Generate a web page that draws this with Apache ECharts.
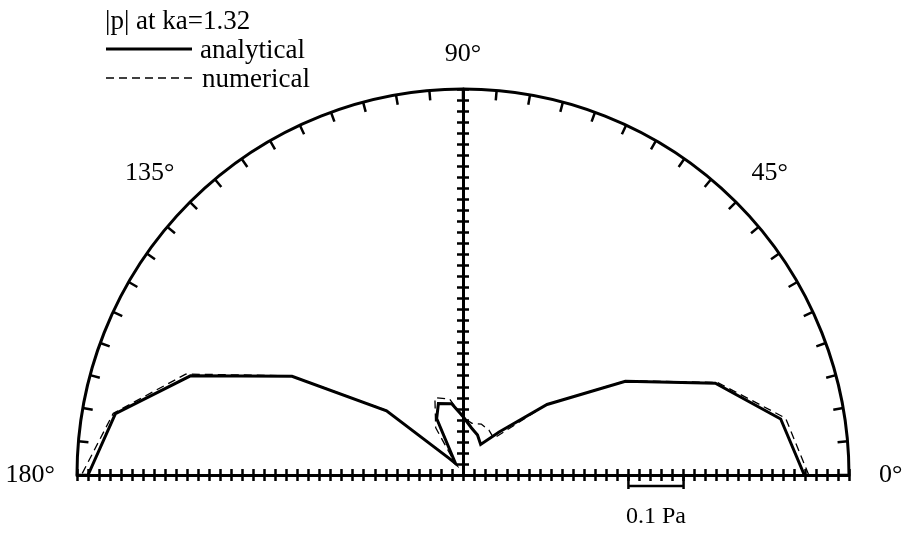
<!DOCTYPE html>
<html>
<head>
<meta charset="utf-8">
<script src="https://cdn.jsdelivr.net/npm/echarts@6/dist/echarts.min.js"></script>
<style>
  html, body { margin: 0; padding: 0; background: #fff; }
  #chart { width: 902px; height: 535px; }
</style>
</head>
<body>
<div id="chart"></div>
<script>
// Directivity of |p| (Pa) over the upper half plane, angle in degrees
const analyticalAngle = [0, 10, 20, 30, 40, 50, 60, 70, 80, 90, 99, 109, 115, 123, 130, 140, 150, 160, 170, 180];
const analyticalP     = [0.619, 0.585, 0.487, 0.340, 0.199, 0.102, 0.064, 0.077, 0.087, 0.106, 0.131, 0.137, 0.113, 0.025, 0.040, 0.181, 0.358, 0.526, 0.640, 0.680];

const numericalAngle = [0, 10, 20, 30, 40, 50, 60, 70, 80, 90, 100, 110, 120, 125, 130, 140, 150, 160, 170, 180];
const numericalP     = [0.627, 0.594, 0.491, 0.342, 0.200, 0.087, 0.094, 0.098, 0.095, 0.104, 0.140, 0.149, 0.099, 0.022, 0.042, 0.183, 0.360, 0.535, 0.644, 0.692];

const angleLabelValues = [0, 45, 90, 135, 180];
const seriesNames = ['analytical', 'numerical'];
const titleText = '|p| at ka=1.32';
const scaleBar = [0.3, 0.4];          // Pa, drawn under the 0° axis
const scaleBarText = '0.1 Pa';

const FONT = 'Liberation Serif';
const INK = '#000';
const CX = 463, CY = 475;
const RADIUS = 386;
const R_MAX = 0.7;
const R_STEP = 0.02;
const TICK = 12;                       // full length of the crossed radial ticks

const chart = echarts.init(document.getElementById('chart'), null, { renderer: 'canvas' });

function zip(angles, values) {
  return angles.map((a, i) => [values[i], a]);
}

// Polar 0 carries the arc, the 0° axis line and the curves.
// Polars 1-2 draw the 90° and 180° axis lines; polars 3-5 are shifted by
// half a tick so that their one-sided ticks straddle those lines.
const layout = [
  { center: [CX, CY], dir: 0, line: true, ticks: false },
  { center: [CX, CY], dir: 90, line: true, ticks: false },
  { center: [CX, CY], dir: 180, line: true, ticks: false },
  { center: [CX, CY + TICK / 2], dir: 0, line: false, ticks: true },
  { center: [CX, CY - TICK / 2], dir: 180, line: false, ticks: true },
  { center: [CX + TICK / 2, CY], dir: 90, line: false, ticks: true }
];

const polars = layout.map(l => ({ center: l.center, radius: RADIUS }));
const angleAxes = layout.map((l, i) => i === 0 ? {
  polarIndex: 0,
  type: 'value',
  min: 0, max: 180, interval: 5,
  startAngle: 0, endAngle: 180, clockwise: false,
  axisLine: { show: true, lineStyle: { color: INK, width: 3 } },
  axisTick: { show: true, inside: true, length: 10, lineStyle: { color: INK, width: 2.5 } },
  axisLabel: {
    show: true, margin: 22,
    fontFamily: FONT, fontSize: 26, color: INK,
    formatter: v => angleLabelValues.indexOf(v) >= 0 ? (v === 0 ? '{z|' + v + '°}' : v + '°') : '',
    rich: { z: { fontFamily: FONT, fontSize: 26, color: INK, padding: [0, 0, 0, 8] } }
  },
  splitLine: { show: false }
} : {
  polarIndex: i, type: 'value', min: 0, max: 360,
  startAngle: l.dir, clockwise: false, show: false
});
const radiusAxes = layout.map((l, i) => ({
  polarIndex: i,
  type: 'value',
  min: 0, max: R_MAX, interval: R_STEP,
  axisLine: { show: l.line, lineStyle: { color: INK, width: 3 } },
  axisTick: { show: l.ticks, length: TICK, lineStyle: { color: INK, width: 2.5 } },
  axisLabel: { show: false },
  splitLine: { show: false }
}));

chart.setOption({
  animation: false,
  backgroundColor: '#fff',
  polar: polars,
  angleAxis: angleAxes,
  radiusAxis: radiusAxes,
  series: [
    {
      name: seriesNames[0],
      type: 'line',
      coordinateSystem: 'polar',
      polarIndex: 0,
      symbol: 'none',
      z: 4,
      itemStyle: { color: INK },
      lineStyle: { color: INK, width: 3, join: 'miter' },
      data: zip(analyticalAngle, analyticalP)
    },
    {
      name: seriesNames[1],
      type: 'line',
      coordinateSystem: 'polar',
      polarIndex: 0,
      symbol: 'none',
      z: 3,
      itemStyle: { color: INK },
      lineStyle: { color: INK, width: 1.3, type: [8, 5] },
      data: zip(numericalAngle, numericalP)
    }
  ]
});

// Scale bar for 0.1 Pa, placed through the polar coordinate system
const a = chart.convertToPixel({ seriesIndex: 0 }, [scaleBar[0], 0]);
const b = chart.convertToPixel({ seriesIndex: 0 }, [scaleBar[1], 0]);

function label(text, x, y, size, align) {
  return {
    type: 'text', x: x, y: y, z: 10,
    style: {
      text: text, fontFamily: FONT, fontSize: size, fill: INK,
      align: align || 'left', verticalAlign: 'middle'
    }
  };
}

// Key in the upper left corner
const keyX = 106, keyW = 86;
const keyRows = [49, 78];
chart.setOption({
  graphic: [
    label(titleText, keyX - 1, 22, 27),
    {
      type: 'line', shape: { x1: keyX, y1: keyRows[0], x2: keyX + keyW, y2: keyRows[0] },
      style: { stroke: INK, lineWidth: 3 }
    },
    label(seriesNames[0], keyX + keyW + 8, keyRows[0] + 2, 27),
    {
      type: 'line', shape: { x1: keyX, y1: keyRows[1], x2: keyX + keyW, y2: keyRows[1] },
      style: { stroke: INK, lineWidth: 1.3, lineDash: [8, 5] }
    },
    label(seriesNames[1], keyX + keyW + 10, keyRows[1] + 2, 27),
    {
      type: 'polyline',
      shape: { points: [[a[0], a[1] + 2], [a[0], a[1] + 14], [a[0], a[1] + 11], [b[0], a[1] + 11], [b[0], a[1] + 14], [b[0], a[1] + 2]] },
      style: { stroke: INK, lineWidth: 2.5, fill: null },
      z: 10
    },
    label(scaleBarText, (a[0] + b[0]) / 2, a[1] + 42, 24, 'center')
  ]
});
</script>
</body>
</html>
